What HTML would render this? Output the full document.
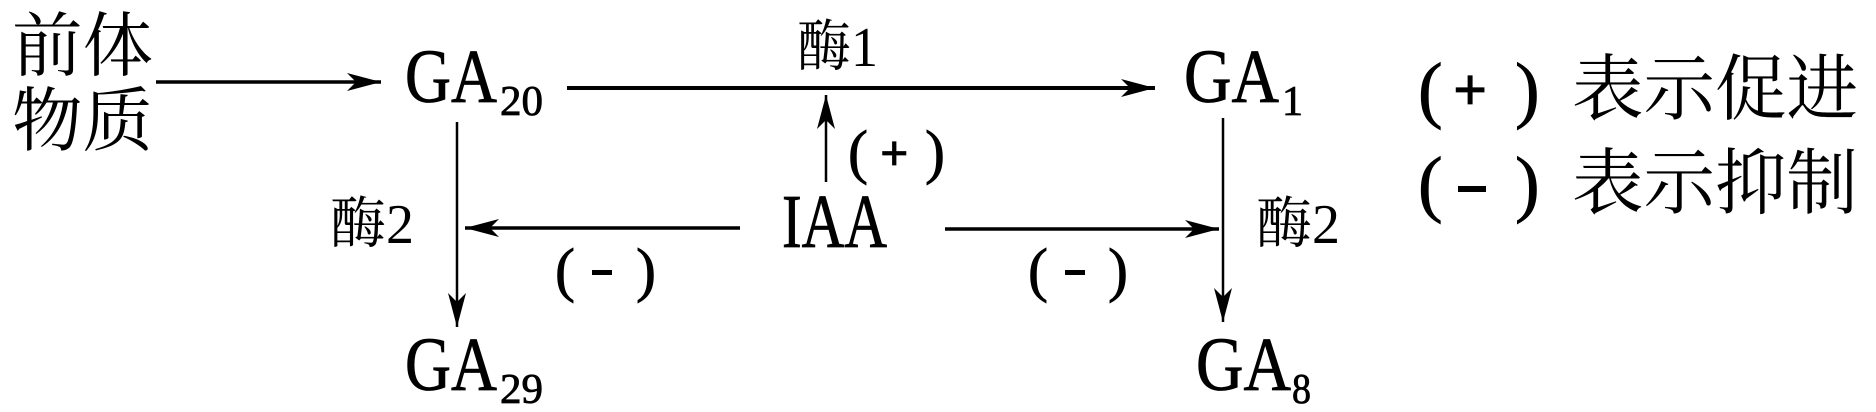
<!DOCTYPE html>
<html><head><meta charset="utf-8"><style>
html,body{margin:0;padding:0;background:#fff;}
svg{display:block;}
.cn{font-family:"Liberation Serif","Noto Serif CJK SC",serif;}
.ga{font-family:"Liberation Serif",serif;stroke:#000;stroke-width:0.8;}
</style></head><body>
<svg width="1876" height="412" viewBox="0 0 1876 412" xmlns="http://www.w3.org/2000/svg">
<defs>
<marker id="ah" markerWidth="36" markerHeight="20" refX="34" refY="10" orient="auto" markerUnits="userSpaceOnUse">
<path d="M0,1 L34,10 L0,19 L9,10 Z" fill="#000"/>
</marker>
</defs>
<g fill="#000">
<text class="cn" x="12" y="70" font-size="70" textLength="141" lengthAdjust="spacingAndGlyphs">前体</text>
<text class="cn" x="12" y="145" font-size="70" textLength="141" lengthAdjust="spacingAndGlyphs">物质</text>

<text class="ga" x="405" y="102" font-size="76" textLength="92" lengthAdjust="spacingAndGlyphs">GA</text>
<text class="ga" x="500" y="115" font-size="42" textLength="43" lengthAdjust="spacingAndGlyphs">20</text>

<text class="ga" x="1184" y="102" font-size="76" textLength="95" lengthAdjust="spacingAndGlyphs">GA</text>
<text class="ga" x="1282" y="115" font-size="42">1</text>

<text class="ga" x="405" y="390" font-size="76" textLength="92" lengthAdjust="spacingAndGlyphs">GA</text>
<text class="ga" x="500" y="403" font-size="42" textLength="43" lengthAdjust="spacingAndGlyphs">29</text>

<text class="ga" x="1196" y="390" font-size="76" textLength="95" lengthAdjust="spacingAndGlyphs">GA</text>
<text class="ga" x="1292" y="403" font-size="42" textLength="19" lengthAdjust="spacingAndGlyphs">8</text>

<text class="ga" x="782" y="247" font-size="76" textLength="105" lengthAdjust="spacingAndGlyphs">IAA</text>

<text class="cn" x="797" y="66" font-size="56" textLength="81" lengthAdjust="spacingAndGlyphs">酶1</text>
<text class="cn" x="330" y="243" font-size="56" textLength="84" lengthAdjust="spacingAndGlyphs">酶2</text>
<text class="cn" x="1256" y="243" font-size="56" textLength="84" lengthAdjust="spacingAndGlyphs">酶2</text>

<text class="ga" x="848" y="172" font-size="60">(</text>
<text class="ga" x="880" y="170" font-size="50" font-weight="bold">+</text>
<text class="ga" x="925" y="172" font-size="60">)</text>

<text class="ga" x="555" y="290" font-size="60">(</text>
<rect x="592" y="270" width="20" height="5"/>
<text class="ga" x="636" y="290" font-size="60">)</text>

<text class="ga" x="1028" y="290" font-size="60">(</text>
<rect x="1065" y="270" width="20" height="5"/>
<text class="ga" x="1108" y="290" font-size="60">)</text>

<text class="ga" x="1418" y="114" font-size="74">(</text>
<text class="ga" x="1453" y="110" font-size="60" font-weight="bold">+</text>
<text class="ga" x="1515" y="114" font-size="74">)</text>
<text class="cn" x="1572" y="114" font-size="72" textLength="286" lengthAdjust="spacingAndGlyphs">表示促进</text>

<text class="ga" x="1418" y="208" font-size="74">(</text>
<rect x="1458" y="186" width="28" height="6"/>
<text class="ga" x="1515" y="208" font-size="74">)</text>
<text class="cn" x="1572" y="208" font-size="72" textLength="286" lengthAdjust="spacingAndGlyphs">表示抑制</text>
</g>

<g stroke="#000" fill="none">
<line x1="156" y1="82" x2="381" y2="82" stroke-width="3.5" marker-end="url(#ah)"/>
<line x1="567" y1="88" x2="1155" y2="88" stroke-width="4" marker-end="url(#ah)"/>
<line x1="826" y1="182" x2="826" y2="95" stroke-width="2.5" marker-end="url(#ah)"/>
<line x1="740" y1="228" x2="465" y2="228" stroke-width="3.5" marker-end="url(#ah)"/>
<line x1="945" y1="229" x2="1219" y2="229" stroke-width="3.5" marker-end="url(#ah)"/>
<line x1="457" y1="122" x2="457" y2="327" stroke-width="2.5" marker-end="url(#ah)"/>
<line x1="1223" y1="118" x2="1223" y2="322" stroke-width="2.5" marker-end="url(#ah)"/>
</g>
</svg>
</body></html>
